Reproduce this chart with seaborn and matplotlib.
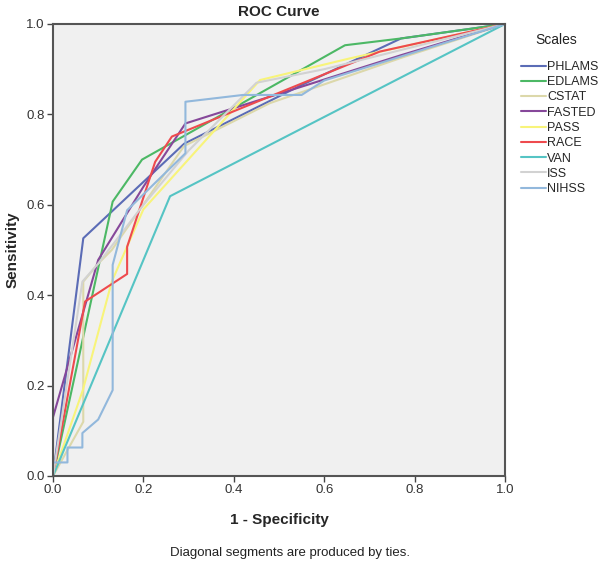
import numpy as np
import pandas as pd
import matplotlib
matplotlib.use("Agg")
import matplotlib.pyplot as plt
import seaborn as sns

scales = ["PHLAMS", "EDLAMS", "CSTAT", "FASTED", "PASS", "RACE", "VAN", "ISS", "NIHSS"]
colors = ["#5b6cb6", "#4cb865", "#dcd8aa", "#86489a", "#f8f47a", "#ee4a4e", "#55c4c4", "#d2d2d2", "#92b8dc"]

phlams_x = [0.0, 0.067, 0.29, 0.55, 0.77, 1.0]
phlams_y = [0.0, 0.526, 0.735, 0.865, 0.968, 1.0]
edlams_x = [0.0, 0.132, 0.197, 0.646, 0.77, 1.0]
edlams_y = [0.0, 0.607, 0.70, 0.953, 0.968, 1.0]
cstat_x = [0.0, 0.067, 0.067, 0.10, 0.13, 0.29, 0.48, 0.77, 1.0]
cstat_y = [0.0, 0.12, 0.43, 0.47, 0.50, 0.73, 0.825, 0.925, 1.0]
fasted_x = [0.0, 0.0, 0.10, 0.20, 0.293, 0.77, 1.0]
fasted_y = [0.0, 0.13, 0.478, 0.64, 0.78, 0.931, 1.0]
pass_x = [0.0, 0.066, 0.13, 0.20, 0.458, 0.657, 1.0]
pass_y = [0.0, 0.19, 0.43, 0.59, 0.876, 0.924, 1.0]
race_x = [0.0, 0.071, 0.164, 0.164, 0.226, 0.263, 0.723, 1.0]
race_y = [0.0, 0.386, 0.447, 0.507, 0.695, 0.751, 0.939, 1.0]
van_x = [0.0, 0.259, 1.0]
van_y = [0.0, 0.619, 1.0]
iss_x = [0.0, 0.065, 0.10, 0.20, 0.30, 0.45, 0.60, 1.0]
iss_y = [0.0, 0.43, 0.47, 0.60, 0.72, 0.87, 0.90, 1.0]
nihss_x = [0.0, 0.0, 0.032, 0.032, 0.065, 0.065, 0.10, 0.132, 0.132, 0.164, 0.293, 0.293, 0.42, 0.55, 0.60, 1.0]
nihss_y = [0.0, 0.03, 0.03, 0.063, 0.063, 0.095, 0.125, 0.19, 0.467, 0.588, 0.714, 0.828, 0.843, 0.843, 0.875, 1.0]

xs = [phlams_x, edlams_x, cstat_x, fasted_x, pass_x, race_x, van_x, iss_x, nihss_x]
ys = [phlams_y, edlams_y, cstat_y, fasted_y, pass_y, race_y, van_y, iss_y, nihss_y]

rows = []
for name, xv, yv in zip(scales, xs, ys):
    for i, (a, b) in enumerate(zip(xv, yv)):
        rows.append({"Scale": name, "x": a, "y": b, "order": i})
df = pd.DataFrame(rows)

sns.set_style("ticks")
plt.rcParams["font.family"] = ["Liberation Sans", "DejaVu Sans"]

fig = plt.figure(figsize=(6.0, 5.66), dpi=100)
ax = fig.add_axes([53/600, 90/566, 452/600, 452/566])
ax.set_facecolor("#f0f0f0")

sns.lineplot(data=df, x="x", y="y", hue="Scale", hue_order=scales,
             palette=colors, estimator=None, sort=False, units="Scale",
             linewidth=1.5, ax=ax, legend=True)

ax.set_xlim(0, 1)
ax.set_ylim(0, 1)
ticks = [0.0, 0.2, 0.4, 0.6, 0.8, 1.0]
ax.set_xticks(ticks)
ax.set_yticks(ticks)
ax.set_xticklabels([f"{t:.1f}" for t in ticks], fontsize=9.5, color="#333333")
ax.set_yticklabels([f"{t:.1f}" for t in ticks], fontsize=9.5, color="#333333")
ax.tick_params(direction="out", length=4, width=1, color="#444444", pad=2)
for s in ax.spines.values():
    s.set_color("#555555")
    s.set_linewidth(1.5)

ax.set_title("ROC Curve", fontsize=11, fontweight="bold", pad=6)
ax.set_xlabel("1 - Specificity", fontsize=11, fontweight="bold", labelpad=12)
ax.set_ylabel("Sensitivity", fontsize=11, fontweight="bold", labelpad=5)

fig.text(290/600, 1 - 553/566, "Diagonal segments are produced by ties.",
         ha="center", va="center", fontsize=9.5, color="#222222")

handles, labels = ax.get_legend_handles_labels()
ax.get_legend().remove()
fig.text(556/600, 1 - 40/566, "Scales", ha="center", va="center",
         fontsize=10, color="#222222")
leg = fig.legend(handles, labels, loc="upper left",
                 bbox_to_anchor=(521/600, 1 - 61/566), frameon=False,
                 fontsize=9, handlelength=2.0, handletextpad=0.1,
                 labelspacing=0.26, borderaxespad=0, borderpad=0)

fig.savefig("out.png", dpi=100)
